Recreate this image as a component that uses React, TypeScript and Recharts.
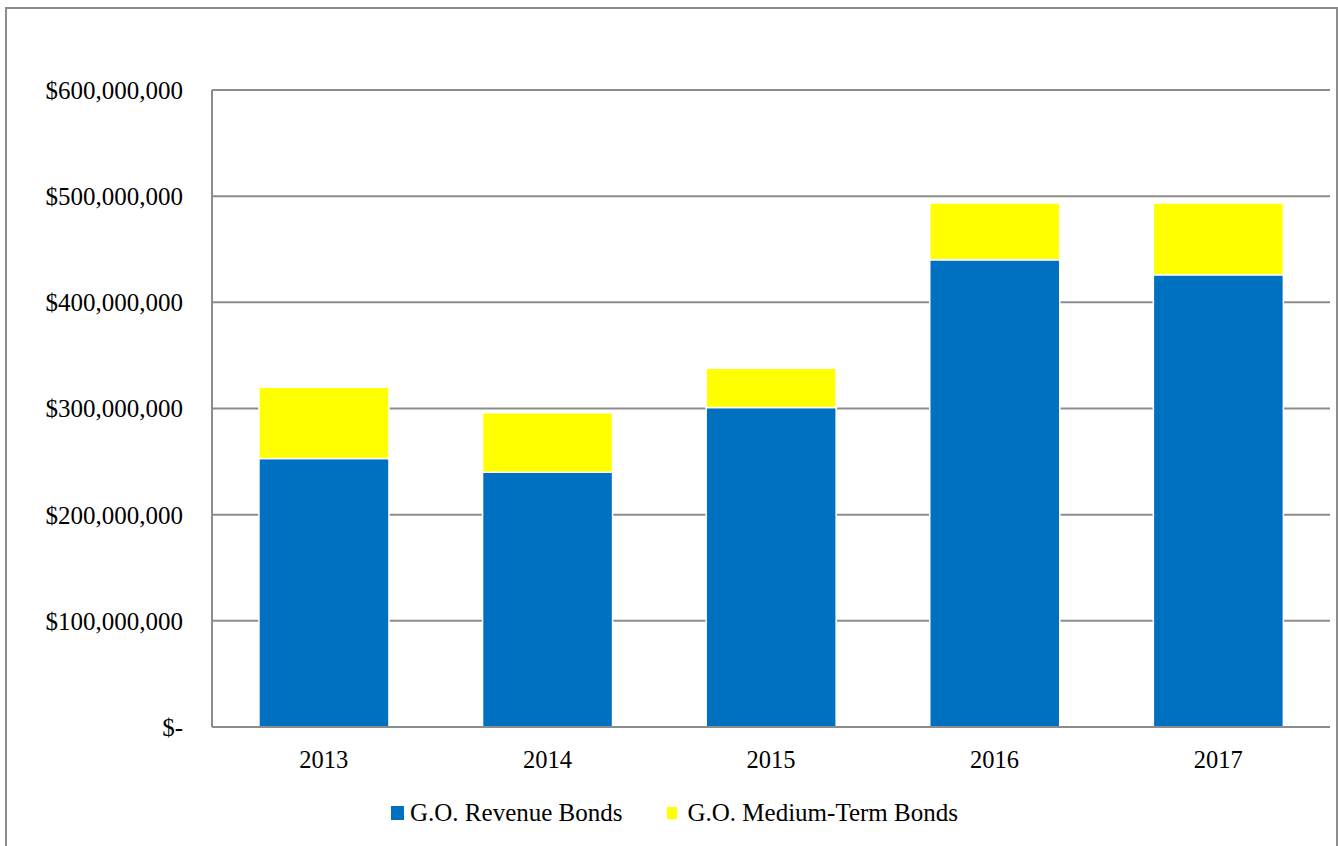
import { BarChart, Bar, XAxis, YAxis, CartesianGrid } from "recharts";

// fiscal years and outstanding amounts (dollars)
const years = ["2013", "2014", "2015", "2016", "2017"];
const revenueBonds = [253000000, 240000000, 301000000, 440000000, 426000000];
const mediumTermBonds = [67000000, 56000000, 37000000, 53500000, 67500000];
const yTicks = [0, 100000000, 200000000, 300000000, 400000000, 500000000, 600000000];

const seriesNames = ["G.O. Revenue Bonds", "G.O. Medium-Term Bonds"];
const BLUE = "#0070C0";
const YELLOW = "#FFFF00";
const FONT = "'Liberation Serif', 'Times New Roman', serif";

const data = years.map((y, i) => ({
  year: y,
  revenue: revenueBonds[i],
  medium: mediumTermBonds[i],
}));

const fmtDollar = (v: number) => (v === 0 ? "$-" : "$" + v.toLocaleString("en-US"));

export default function App() {
  return (
    <div style={{ position: "absolute", left: 0, top: 0, width: 1338, height: 846, overflow: "hidden", background: "#fff" }}>
      {/* outer frame */}
      <div style={{ position: "absolute", left: 5, top: 7, width: 1329, height: 900, border: "2px solid #8c8c8c" }} />

      <div style={{ position: "absolute", left: 0, top: 0 }}>
        <BarChart
          width={1338}
          height={846}
          data={data}
          margin={{ top: 90, right: 8, left: 12, bottom: 79 }}
          barCategoryGap="21%"
        >
          <CartesianGrid vertical={false} stroke="#8c8c8c" strokeWidth={2} />
          <XAxis
            dataKey="year"
            axisLine={{ stroke: "#8c8c8c", strokeWidth: 2 }}
            tickLine={false}
            tickMargin={18}
            height={40}
            tick={{ fontSize: 24.5, fill: "#000", fontFamily: FONT }}
          />
          <YAxis
            width={200}
            domain={[0, 600000000]}
            ticks={yTicks}
            tickFormatter={fmtDollar}
            axisLine={{ stroke: "#8c8c8c", strokeWidth: 2 }}
            tickLine={false}
            tickMargin={23}
            tick={{ fontSize: 25, fill: "#000", fontFamily: FONT }}
          />
          <Bar dataKey="revenue" stackId="a" fill={BLUE} stroke="#ffffff" strokeWidth={1.5} isAnimationActive={false} />
          <Bar dataKey="medium" stackId="a" fill={YELLOW} stroke="#ffffff" strokeWidth={1.5} isAnimationActive={false} />
        </BarChart>
      </div>

      {/* legend */}
      <div
        style={{
          position: "absolute",
          top: 799,
          left: 391,
          display: "flex",
          alignItems: "center",
          fontFamily: FONT,
          fontSize: 25,
          color: "#000",
          whiteSpace: "nowrap",
        }}
      >
        <span style={{ display: "inline-block", width: 13, height: 14, background: BLUE, marginRight: 6 }} />
        <span>{seriesNames[0]}</span>
        <span style={{ display: "inline-block", width: 10, height: 12, background: YELLOW, marginLeft: 45, marginRight: 10 }} />
        <span>{seriesNames[1]}</span>
      </div>
    </div>
  );
}
